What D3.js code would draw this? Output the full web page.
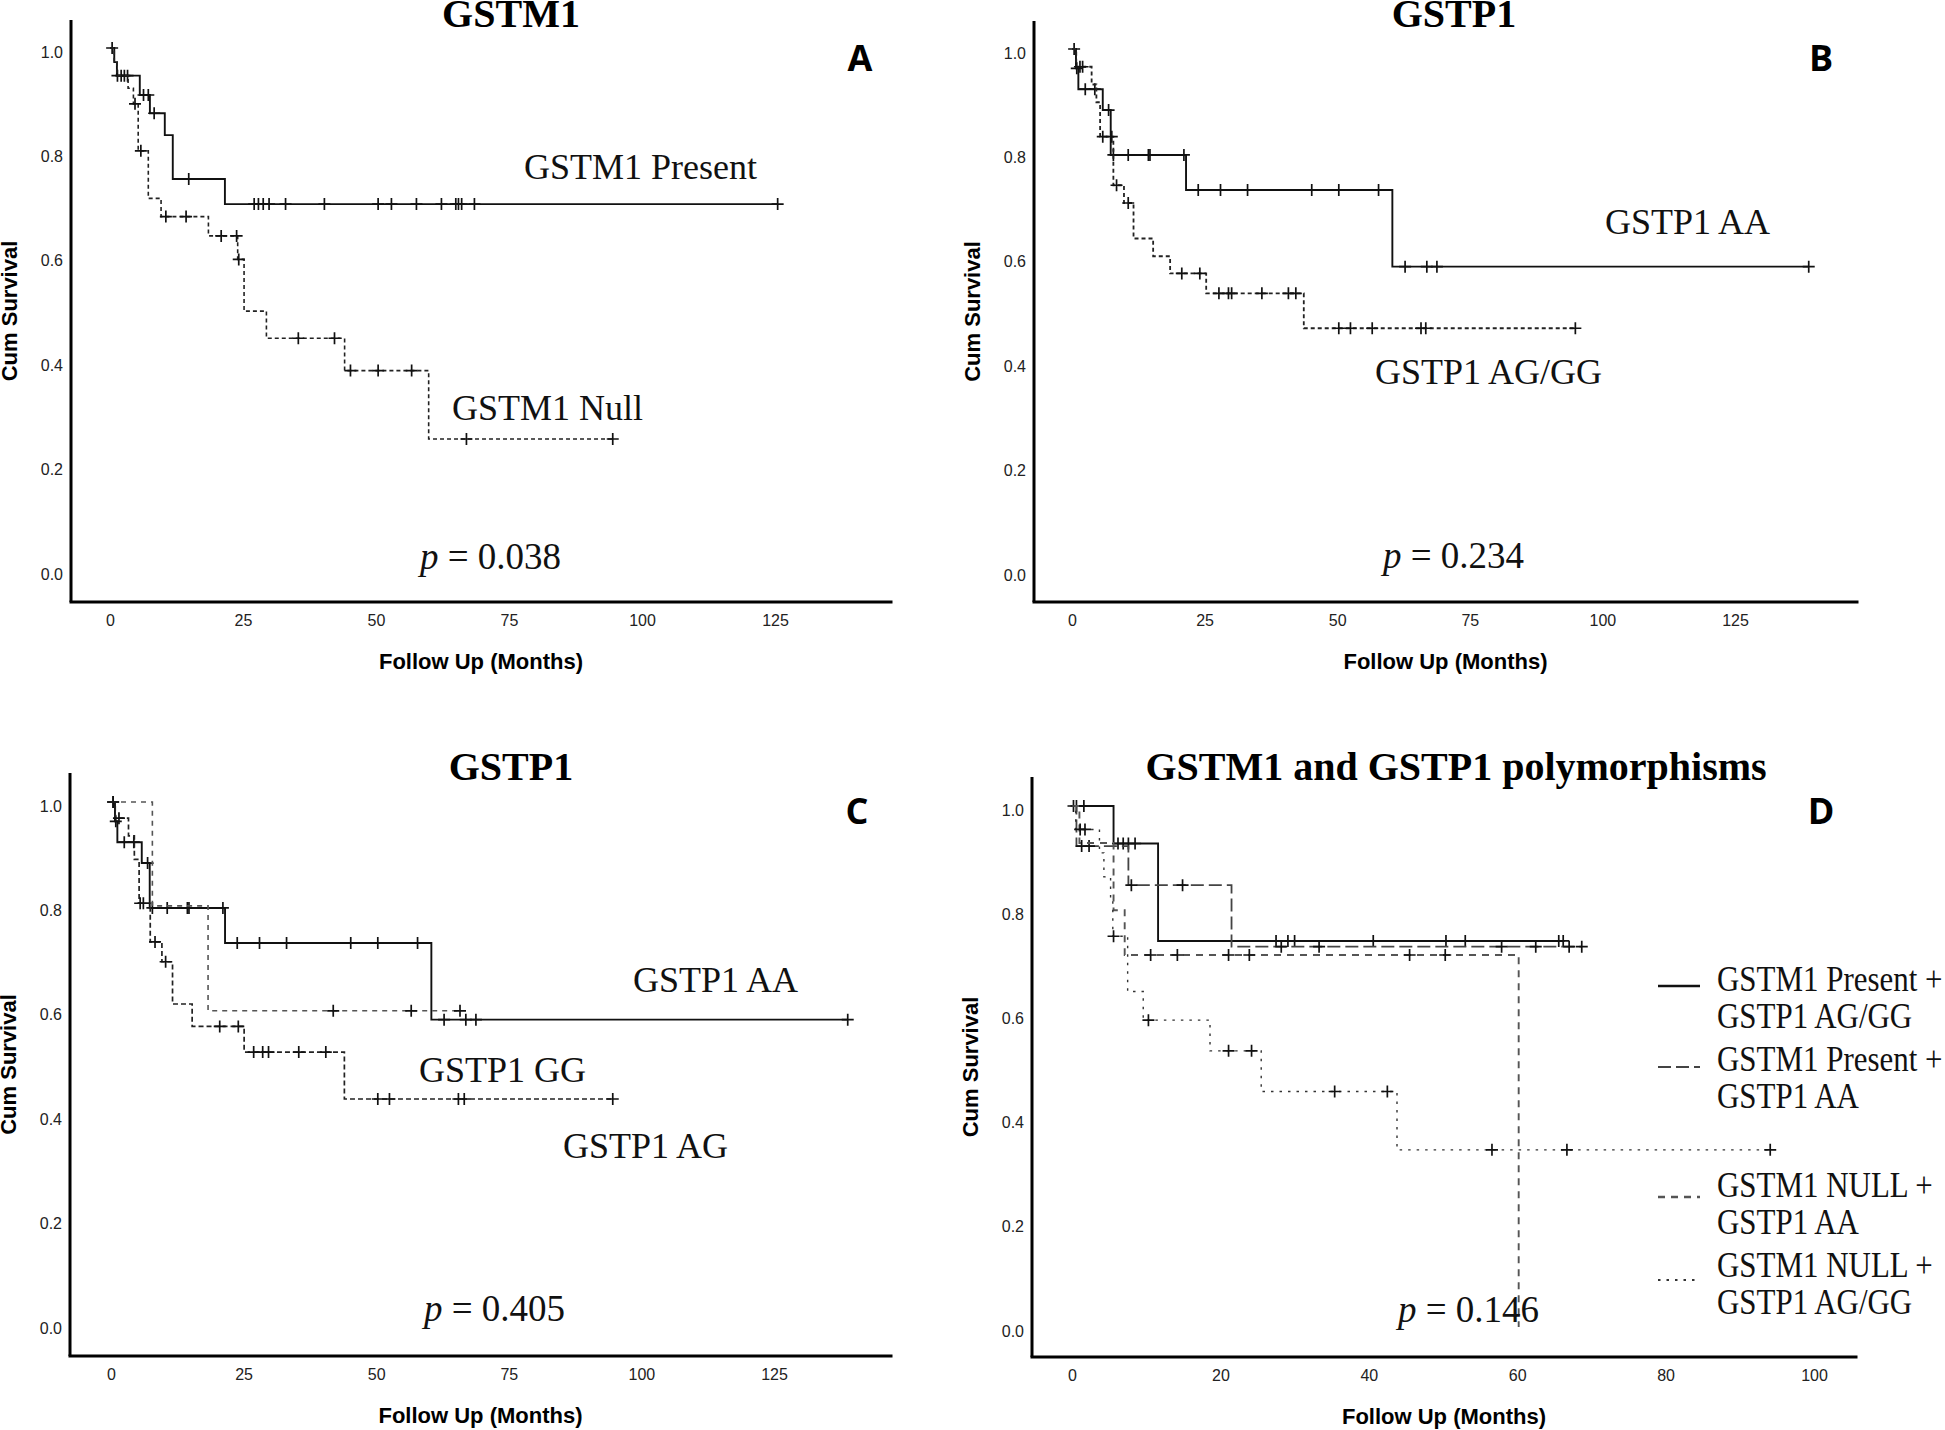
<!DOCTYPE html>
<html>
<head>
<meta charset="utf-8">
<script src="https://cdn.jsdelivr.net/npm/d3@7"></script>
<style>
  body { margin: 0; background: #fff; }
  svg { display: block; }
</style>
</head>
<body>
<script>
// ---------- data: follow up (months) and cumulative survival ----------
var monthTicks125 = [0, 25, 50, 75, 100, 125];
var monthTicks100 = [0, 20, 40, 60, 80, 100];
var survTicks = [0, 0.2, 0.4, 0.6, 0.8, 1.0];

// A: GSTM1
var presentTimes = [0.8, 1.3, 5.6, 7.5, 10.3, 11.8, 21.6];
var presentSurv  = [0.973, 0.947, 0.910, 0.875, 0.833, 0.749, 0.701];
var presentCens  = [0.4, 1.4, 2.1, 2.7, 3.3, 6.3, 7.2, 8.3, 14.8, 27.1, 27.9, 28.8, 29.9, 33.0, 40.3,
                    50.4, 52.9, 57.6, 62.3, 65.0, 65.5, 66.1, 68.5, 125.5];
var nullTimes = [0.8, 1.3, 3.4, 4.4, 5.3, 7.2, 9.6, 18.5, 24.0, 25.2, 29.4, 44.1, 59.9];
var nullSurv  = [0.973, 0.947, 0.923, 0.893, 0.803, 0.712, 0.677, 0.640, 0.595, 0.496, 0.444, 0.382, 0.251];
var nullCens  = [4.7, 5.8, 10.5, 14.3, 20.9, 23.8, 24.2, 35.4, 42.2, 45.2, 50.4, 56.7, 67.0, 94.5];

// B / C: GSTP1 AA (same group in both panels)
var aaTimes = [0.75, 1.2, 5.8, 7.3, 21.5, 60.4];
var aaSurv  = [0.963, 0.923, 0.883, 0.797, 0.730, 0.583];
var aaCens  = [0.4, 0.9, 2.5, 4.3, 6.9, 7.8, 10.6, 14.4, 14.7, 21.1, 23.8, 28.0, 33.1, 45.2,
               50.3, 57.8, 62.8, 66.9, 68.8, 138.9];
// B: GSTP1 AG/GG
var agggTimes = [0.8, 3.7, 4.6, 5.3, 7.8, 9.8, 11.6, 15.3, 18.5, 25.3, 43.7];
var agggSurv  = [0.966, 0.932, 0.898, 0.832, 0.739, 0.705, 0.637, 0.603, 0.570, 0.532, 0.465];
var agggCens  = [1.5, 2.0, 5.8, 7.5, 8.4, 10.6, 20.7, 24.1, 27.7, 29.5, 30.1, 35.8, 40.8, 42.2,
                 50.3, 52.5, 56.6, 65.8, 66.7, 94.9];
// C: GSTP1 AG and GG
var agTimes = [0.8, 3.3, 4.4, 5.3, 7.4, 9.6, 11.6, 15.3, 25.1, 44.0];
var agSurv  = [0.969, 0.935, 0.890, 0.806, 0.732, 0.694, 0.613, 0.570, 0.521, 0.431];
var agCens  = [1.5, 5.5, 6.1, 8.3, 10.3, 20.5, 24.0, 26.9, 28.6, 29.7, 35.4, 40.5, 50.3, 52.5,
               65.5, 66.6, 94.6];
var ggTimes = [7.8, 18.3];
var ggSurv  = [0.801, 0.600];
var ggCens  = [0.4, 41.9, 56.6, 65.8];

// D: combined genotypes
var pagTimes = [5.6, 11.6];
var pagSurv  = [0.928, 0.741];
var pagCens  = [0.2, 0.6, 1.6, 6.2, 6.9, 7.6, 8.5, 27.5, 29.1, 30.0, 40.6, 50.4, 53.0, 65.6, 66.2];
var paaTimes = [0.6, 7.6, 21.5];
var paaSurv  = [0.923, 0.848, 0.730];
var paaCens  = [1.3, 2.3, 8.0, 14.9, 28.2, 33.3, 57.9, 62.5, 67.0, 68.7];
var naaTimes = [1.0, 5.6, 7.1, 60.2];
var naaSurv  = [0.929, 0.800, 0.714, 0];
var naaCens  = [10.6, 14.2, 21.1, 23.9, 45.5, 50.3];
var nagTimes = [0.5, 3.7, 4.3, 5.2, 5.5, 7.5, 9.6, 18.6, 25.5, 43.8];
var nagSurv  = [0.955, 0.910, 0.864, 0.818, 0.750, 0.644, 0.589, 0.530, 0.452, 0.340];
var nagCens  = [1.1, 1.75, 5.6, 10.3, 21.1, 24.2, 35.4, 42.5, 56.6, 66.7, 94.1];

var legendLabels = [["GSTM1 Present +", "GSTP1 AG/GG"], ["GSTM1 Present +", "GSTP1 AA"],
                    ["GSTM1 NULL +", "GSTP1 AA"], ["GSTM1 NULL +", "GSTP1 AG/GG"]];

// ---------- helpers ----------
var SANS = "'Liberation Sans', Arial, sans-serif";
var SERIF = "'Liberation Serif', 'Times New Roman', serif";

function km(times, surv, cens, style) {
  var end = d3.max(times.concat(cens));
  return { t: times, s: surv, c: cens, end: end, style: style };
}
function survAt(sr, tm) {
  var v = 1;
  for (var i = 0; i < sr.t.length; i++) if (sr.t[i] <= tm) v = sr.s[i];
  return v;
}
function stepPoints(sr) {
  var pts = [[0, 1]];
  sr.t.forEach(function(t, i) { pts.push([t, sr.s[i]]); });
  var last = pts[pts.length - 1];
  if (sr.end > last[0]) pts.push([sr.end, last[1]]);
  return pts;
}

var solid  = { color: "#111", width: 1.9, dash: null };
var styA2  = { color: "#222", width: 1.6, dash: "4,3" };
var styB2  = { color: "#222", width: 1.8, dash: "4,3" };
var styAG  = { color: "#222", width: 1.7, dash: "5,3" };
var styGG  = { color: "#555", width: 1.6, dash: "5,5" };
var styPAA = { color: "#444", width: 1.8, dash: "13,5" };
var styNAA = { color: "#555", width: 1.9, dash: "7,6" };
var styNAG = { color: "#333", width: 1.4, dash: "2.5,6" };

var aaSeries = km(aaTimes, aaSurv, aaCens, solid);
var dSeries = [km(pagTimes, pagSurv, pagCens, solid), km(paaTimes, paaSurv, paaCens, styPAA),
               km(naaTimes, naaSurv, naaCens, styNAA), km(nagTimes, nagSurv, nagCens, styNAG)];

var panels = [
  { letter: "A", title: "GSTM1", titleX: 511, titleY: 27, letterX: 860, letterY: 71,
    left: 71, right: 891, top: 20, bottom: 602,
    xDom: [0, 125], xRange: [110, 775], yRange: [570, 48], xTicks: monthTicks125,
    series: [km(presentTimes, presentSurv, presentCens, solid), km(nullTimes, nullSurv, nullCens, styA2)],
    notes: [["GSTM1 Present", 524, 179], ["GSTM1 Null", 452, 420]], p: ["0.038", 420, 569] },
  { letter: "B", title: "GSTP1", titleX: 1454, titleY: 27, letterX: 1821, letterY: 71,
    left: 1034, right: 1857, top: 21, bottom: 602,
    xDom: [0, 125], xRange: [1072, 1735], yRange: [571, 49], xTicks: monthTicks125,
    series: [aaSeries, km(agggTimes, agggSurv, agggCens, styB2)],
    notes: [["GSTP1 AA", 1605, 234], ["GSTP1 AG/GG", 1375, 384]], p: ["0.234", 1383, 568] },
  { letter: "C", title: "GSTP1", titleX: 511, titleY: 780, letterX: 857, letterY: 824,
    left: 70, right: 891, top: 773, bottom: 1356,
    xDom: [0, 125], xRange: [111, 774], yRange: [1324, 802], xTicks: monthTicks125,
    series: [aaSeries, km(ggTimes, ggSurv, ggCens, styGG), km(agTimes, agSurv, agCens, styAG)],
    notes: [["GSTP1 AA", 633, 992], ["GSTP1 GG", 419, 1082], ["GSTP1 AG", 563, 1158]], p: ["0.405", 424, 1321] },
  { letter: "D", title: "GSTM1 and GSTP1 polymorphisms", titleX: 1456, titleY: 780, letterX: 1821, letterY: 824,
    left: 1032, right: 1856, top: 777, bottom: 1357,
    xDom: [0, 100], xRange: [1072, 1814], yRange: [1327, 806], xTicks: monthTicks100,
    series: dSeries, notes: [], p: ["0.146", 1398, 1322] }
];

var svg = d3.select("body").append("svg")
  .attr("width", 1945).attr("height", 1430)
  .style("background", "#fff");

panels.forEach(function(p) {
  var g = svg.append("g");
  var x = d3.scaleLinear().domain(p.xDom).range(p.xRange);
  var y = d3.scaleLinear().domain([0, 1]).range(p.yRange);

  // tick labels
  var ya = g.append("g").attr("transform", "translate(" + (p.left) + ",4)")
    .call(d3.axisLeft(y).tickValues(survTicks).tickSize(0).tickPadding(8).tickFormat(d3.format(".1f")));
  var xa = g.append("g").attr("transform", "translate(0," + p.bottom + ")")
    .call(d3.axisBottom(x).tickValues(p.xTicks).tickSize(0).tickPadding(13));
  [ya, xa].forEach(function(a) {
    a.select(".domain").remove();
    a.selectAll("text").attr("font-size", 16).attr("font-family", SANS).attr("fill", "#222");
  });

  // axis frame
  g.append("line").attr("x1", p.left).attr("x2", p.left).attr("y1", p.top).attr("y2", p.bottom)
    .attr("stroke", "#000").attr("stroke-width", 3);
  g.append("line").attr("x1", p.left).attr("x2", p.right).attr("y1", p.bottom).attr("y2", p.bottom)
    .attr("stroke", "#000").attr("stroke-width", 3).attr("stroke-linecap", "square");

  // axis titles
  g.append("text").attr("x", (p.left + p.right) / 2).attr("y", p.bottom + 67)
    .attr("text-anchor", "middle").attr("font-family", SANS).attr("font-weight", "bold")
    .attr("font-size", 22).text("Follow Up (Months)");
  g.append("text")
    .attr("transform", "translate(" + (p.left - 54) + "," + ((p.top + p.bottom) / 2) + ") rotate(-90)")
    .attr("text-anchor", "middle").attr("font-family", SANS).attr("font-weight", "bold")
    .attr("font-size", 22).text("Cum Survival");

  // curves
  var line = d3.line().curve(d3.curveStepAfter)
    .x(function(d) { return x(d[0]); }).y(function(d) { return y(d[1]); });
  p.series.forEach(function(sr) {
    g.append("path").attr("d", line(stepPoints(sr)))
      .attr("fill", "none").attr("stroke", sr.style.color)
      .attr("stroke-width", sr.style.width)
      .attr("stroke-dasharray", sr.style.dash);
    g.selectAll(null).data(sr.c).enter().append("path")
      .attr("d", function(c) {
        var cx = x(c), cy = y(survAt(sr, c));
        return "M" + (cx - 6) + "," + cy + "H" + (cx + 6) + "M" + cx + "," + (cy - 6) + "V" + (cy + 6);
      })
      .attr("fill", "none").attr("stroke", "#111").attr("stroke-width", 1.7);
  });

  // titles, letters, notes
  g.append("text").attr("x", p.titleX).attr("y", p.titleY).attr("text-anchor", "middle")
    .attr("font-family", SERIF).attr("font-weight", "bold").attr("font-size", 40).text(p.title);
  g.append("text").attr("x", p.letterX).attr("y", p.letterY).attr("text-anchor", "middle")
    .attr("font-family", "'Open Sans', sans-serif").attr("font-weight", 700).attr("font-size", 36)
    .text(p.letter);
  p.notes.forEach(function(n) {
    g.append("text").attr("x", n[1]).attr("y", n[2]).attr("font-family", SERIF)
      .attr("font-size", 36).attr("fill", "#111").text(n[0]);
  });
  var pt = g.append("text").attr("x", p.p[1]).attr("y", p.p[2]).attr("font-family", SERIF)
    .attr("font-size", 37).attr("fill", "#111");
  pt.append("tspan").attr("font-style", "italic").text("p");
  pt.append("tspan").text(" = " + p.p[0]);
});

// legend for panel D
var legendY = [[991, 986], [1071, 1067], [1197, 1197], [1277, 1280]];
var leg = svg.append("g");
dSeries.forEach(function(sr, i) {
  leg.append("line").attr("x1", 1658).attr("x2", 1700)
    .attr("y1", legendY[i][1]).attr("y2", legendY[i][1])
    .attr("stroke", sr.style.color).attr("stroke-width", sr.style.width + 0.4)
    .attr("stroke-dasharray", sr.style.dash);
  var tg = leg.append("g").attr("transform", "translate(1717," + legendY[i][0] + ") scale(0.86,1)");
  legendLabels[i].forEach(function(lbl, j) {
    tg.append("text").attr("x", 0).attr("y", j * 37).attr("font-family", SERIF)
      .attr("font-size", 36).attr("fill", "#111").text(lbl);
  });
});
</script>
</body>
</html>
